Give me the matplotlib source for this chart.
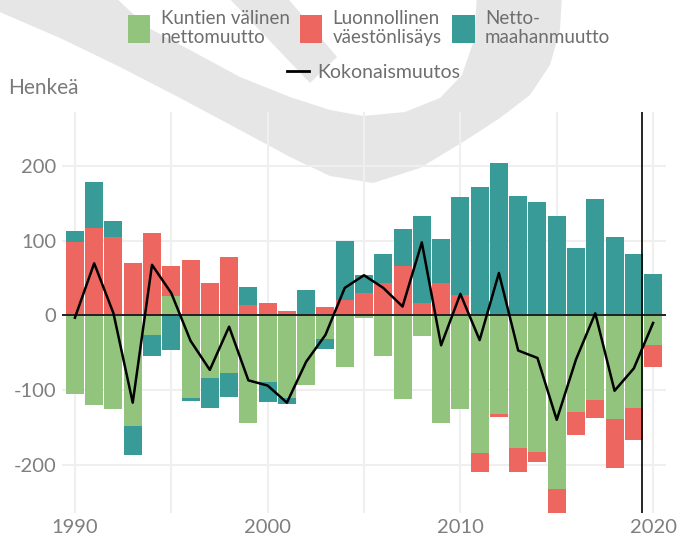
import matplotlib
matplotlib.use('Agg')
import numpy as np
import matplotlib.pyplot as plt
from matplotlib.patches import Patch
from matplotlib.lines import Line2D

# Data (henkeä / vuosi)
years = list(range(1990, 2021))
kuntien_valinen = [-105, -120, -126, -148, -26, 26, -111, -84, -77, -144,
                   -89, -111, -93, -31, -69, -3, -55, -112, -28, -144,
                   -126, -185, -132, -178, -183, -233, -129, -113, -139, -124, -40]
luonnollinen = [98, 117, 105, 71, 111, 40, 75, 43, 78, 14,
                17, 6, 1, 12, 21, 30, 44, 67, 17, 44,
                28, -25, -4, -32, -14, -35, -31, -25, -66, -43, -29]
nettomaahanmuutto = [16, 62, 22, -39, -28, -46, -4, -40, -32, 24,
                     -27, -8, 33, -14, 79, 24, 39, 49, 117, 59,
                     131, 172, 204, 160, 152, 134, 90, 156, 105, 82, 55]
kokonaismuutos = [-3, 70, 3, -117, 68, 30, -34, -73, -15, -87,
                  -94, -117, -62, -26, 37, 54, 37, 12, 98, -40,
                  29, -33, 57, -47, -57, -140, -59, 3, -101, -71, -10]

labels = ['Kuntien välinen\nnettomuutto', 'Luonnollinen\nväestönlisäys', 'Netto-\nmaahanmuutto']
colors = ['#93C47D', '#EE6660', '#389B97']
y_ticks = [-200, -100, 0, 100, 200]
y_labels = ['-200', '-100', '0', '100', '200']
x_ticks = [1990, 1995, 2000, 2005, 2010, 2015, 2020]
x_labels = ['1990', '', '2000', '', '2010', '', '2020']

plt.rcParams['font.family'] = ['Lato', 'DejaVu Sans']
W, H = 677, 541
fig = plt.figure(figsize=(W / 100, H / 100), dpi=100)
fig.patch.set_facecolor('white')

# background watermark, drawn in a full-figure axes in pixel units
bg = fig.add_axes([0, 0, 1, 1], zorder=-1)
bg.set_xlim(0, W)
bg.set_ylim(H, 0)
bg.axis('off')
outer = [(-5, 10), (60, 38), (120, 67), (180, 98), (240, 130), (290, 157), (330, 176),
         (373, 183), (420, 168), (463, 142), (500, 118), (530, 95),
         (550, 65), (560, 30), (562, -5)]
inner = [(477, -5), (474, 40), (462, 75), (440, 98), (405, 112), (363, 116), (330, 110),
         (290, 97), (240, 77), (190, 50), (147, 27), (113, -5), (-5, -5)]
band = np.array(outer + inner)
bg.fill(band[:, 0], band[:, 1], color='#e6e6e6', lw=0)
vband = np.array([(226, -5), (285, -5), (337, 57), (310, 83)])
bg.fill(vband[:, 0], vband[:, 1], color='#e6e6e6', lw=0)

ax = fig.add_axes([62 / W, 1 - 513 / H, (666 - 62) / W, (513 - 112) / H])
ax.set_facecolor('none')

# stacked bars: positives stack upwards, negatives downwards
pos_base = np.zeros(len(years))
neg_base = np.zeros(len(years))
for vals, color, label in zip([kuntien_valinen, luonnollinen, nettomaahanmuutto], colors, labels):
    v = np.array(vals, dtype=float)
    bottom = np.where(v >= 0, pos_base, neg_base)
    ax.bar(years, v, width=0.93, bottom=bottom, color=color, label=label, zorder=2)
    pos_base += np.clip(v, 0, None)
    neg_base += np.clip(v, None, 0)

ax.axhline(0, color='#222222', linewidth=1.4, zorder=3)
ax.plot(years, kokonaismuutos, color='black', linewidth=1.8, zorder=4)
ax.axvline(2019.45, color='black', linewidth=1.2, zorder=4)

ax.set_xlim(1989.33, 2020.67)
ax.set_ylim(-265, 273)
ax.set_xticks(x_ticks)
ax.set_xticklabels(x_labels)
ax.set_yticks(y_ticks)
ax.set_yticklabels(y_labels)
ax.tick_params(length=0, labelsize=14.5, labelcolor='#7f7f7f', pad=4)
ax.grid(True, color='#efefef', linewidth=1.5, zorder=0)
for s in ax.spines.values():
    s.set_visible(False)

fig.text(8 / W, 1 - 88 / H, 'Henkeä', ha='left', va='center', fontsize=15, color='#7a7a7a')

handles = [Patch(facecolor=c, edgecolor='none') for c in colors]
leg1 = fig.legend(handles, labels, loc='center', bbox_to_anchor=(369 / W, 1 - 28 / H),
                  ncol=3, frameon=False, fontsize=13.5, handlelength=1.2, handleheight=1.95,
                  handletextpad=0.55, columnspacing=0.55, labelcolor='#6e6e6e')
leg2 = fig.legend([Line2D([0], [0], color='black', linewidth=2)], ['Kokonaismuutos'],
                  loc='center', bbox_to_anchor=(374 / W, 1 - 72 / H), frameon=False,
                  fontsize=14, handlelength=1.1, handletextpad=0.45, labelcolor='#6e6e6e')

fig.savefig('out.png', dpi=100)
